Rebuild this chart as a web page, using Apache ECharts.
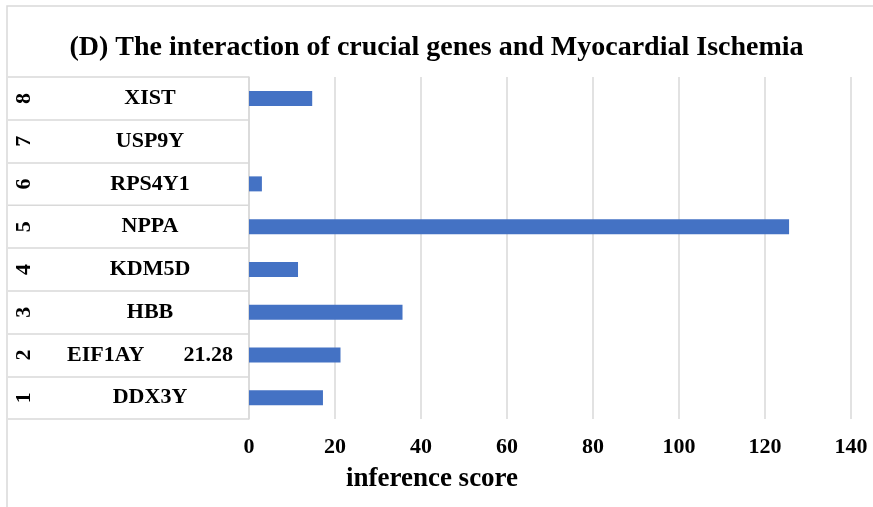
<!DOCTYPE html>
<html>
<head>
<meta charset="utf-8">
<script src="https://cdn.jsdelivr.net/npm/echarts@6/dist/echarts.min.js"></script>
<style>
  html, body { margin: 0; padding: 0; background: #fff; }
  #chart { width: 873px; height: 507px; }
</style>
</head>
<body>
<div id="chart"></div>
<script>
// rows from bottom (1) to top (8)
const rowNumbers = ['1', '2', '3', '4', '5', '6', '7', '8'];
const genes = ['DDX3Y', 'EIF1AY', 'HBB', 'KDM5D', 'NPPA', 'RPS4Y1', 'USP9Y', 'XIST'];
const geneNotes = ['', '21.28', '', '', '', '', '', ''];
const scores = [17.2, 21.28, 35.7, 11.4, 125.6, 3.0, 0, 14.7];
const xTicks = [0, 20, 40, 60, 80, 100, 120, 140];

const serif = "'Liberation Serif', 'Times New Roman', serif";
const gridColor = '#d9d9d9';

const myChart = echarts.init(document.getElementById('chart'));
const option = {
    backgroundColor: '#fff',
    animation: false,
    title: {
        text: '(D) The interaction of crucial genes and Myocardial Ischemia',
        left: 'center',
        top: 29,
        textStyle: { fontFamily: serif, fontWeight: 'bold', fontSize: 28, color: '#000' }
    },
    graphic: [{
        type: 'rect',
        shape: { x: 7, y: 6, width: 900, height: 600 },
        style: { fill: 'none', stroke: gridColor, lineWidth: 1.5 },
        silent: true
    }],
    grid: { left: 249, right: 22, top: 77, bottom: 88 },
    xAxis: {
        type: 'value',
        min: xTicks[0],
        max: xTicks[xTicks.length - 1],
        interval: 20,
        name: 'inference score',
        nameLocation: 'middle',
        nameGap: 47,
        nameTextStyle: {
            fontFamily: serif, fontWeight: 'bold', fontSize: 27, color: '#000',
            padding: [0, 236, 0, 0]
        },
        axisLine: { show: false },
        axisTick: { show: false },
        axisLabel: {
            fontFamily: serif, fontWeight: 'bold', fontSize: 22, color: '#000', margin: 17
        },
        splitLine: { lineStyle: { color: gridColor, width: 1.5 } }
    },
    yAxis: [
        {
            type: 'category',
            data: genes,
            axisLine: { lineStyle: { color: gridColor, width: 1.5 } },
            axisTick: { show: true, length: 241, lineStyle: { color: gridColor, width: 1.5 } },
            axisLabel: {
                align: 'center',
                margin: 99,
                fontFamily: serif, fontWeight: 'bold', fontSize: 22, color: '#000',
                formatter: function (v, i) {
                    const note = geneNotes[i];
                    return note ? '{n|' + v + '}{v|' + note + '}' : v;
                },
                rich: {
                    n: { fontFamily: serif, fontWeight: 'bold', fontSize: 22, color: '#000' },
                    v: { fontFamily: serif, fontWeight: 'bold', fontSize: 22, color: '#000', padding: [0, 0, 0, 39] }
                }
            }
        },
        {
            type: 'category',
            data: rowNumbers,
            position: 'left',
            axisLine: { show: false },
            axisTick: { show: false },
            axisLabel: {
                rotate: 90,
                margin: 214,
                fontFamily: serif, fontWeight: 'bold', fontSize: 22, color: '#000'
            }
        }
    ],
    series: [{
        type: 'bar',
        data: scores,
        barWidth: 15,
        itemStyle: { color: '#4472c4' }
    }]
};
myChart.setOption(option);
</script>
</body>
</html>
